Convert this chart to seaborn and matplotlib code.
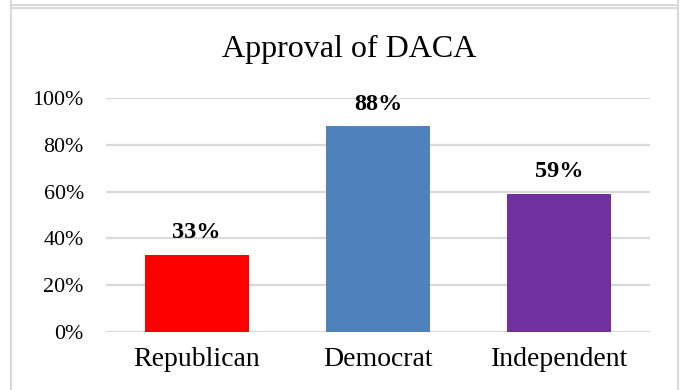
import matplotlib
matplotlib.use("Agg")
import matplotlib.pyplot as plt
from matplotlib.lines import Line2D
from matplotlib.ticker import PercentFormatter
import seaborn as sns
import pandas as pd

# Share of each party that approves of DACA
parties = ["Republican", "Democrat", "Independent"]
approval = [0.33, 0.88, 0.59]
bar_colors = ["#FF0000", "#4F81BD", "#7030A0"]
y_ticks = [0.0, 0.2, 0.4, 0.6, 0.8, 1.0]
title = "Approval of DACA"

df = pd.DataFrame({"party": parties, "approval": approval})

sns.set_theme(style="white")
plt.rcParams["font.family"] = ["Liberation Serif", "DejaVu Serif"]

fig = plt.figure(figsize=(6.85, 3.9), dpi=100)
ax = fig.add_axes([106 / 685, 58.3 / 390, 544 / 685, 233.4 / 390])

sns.barplot(data=df, x="party", y="approval", hue="party",
            palette=bar_colors, width=0.574, legend=False,
            saturation=1, linewidth=0, ax=ax, zorder=3)

ax.set_ylim(0, 1)
ax.set_yticks(y_ticks)
ax.yaxis.set_major_formatter(PercentFormatter(1.0, decimals=0))
ax.grid(axis="y", color="#D9D9D9", linewidth=1.6, zorder=0)
ax.set_axisbelow(True)
for side in ["top", "right", "left", "bottom"]:
    ax.spines[side].set_visible(False)
ax.tick_params(axis="y", length=0, pad=16, labelsize=15.8, labelcolor="#000000")
ax.tick_params(axis="x", length=0, pad=11, labelsize=20, labelcolor="#000000")
ax.set_xlabel("")
ax.set_ylabel("")

# value labels above each bar
for i, v in enumerate(approval):
    ax.annotate(f"{v:.0%}", xy=(i, v), xytext=(0, 12), textcoords="offset points",
                ha="center", va="baseline", fontsize=17.5, fontweight="bold",
                color="#000000")

fig.text(349 / 685, 1 - 57.3 / 390, title, ha="center", va="baseline",
         fontsize=23, color="#000000")

# light grey frame lines around the chart area
frame_kw = dict(color="#D9D9D9", linewidth=1.5, transform=None)
H = 390
fig.add_artist(Line2D([11, 11], [0, H], **frame_kw))
fig.add_artist(Line2D([678, 678], [0, H], **frame_kw))
fig.add_artist(Line2D([11, 678], [H - 4.5, H - 4.5], **frame_kw))
fig.add_artist(Line2D([11, 678], [H - 7.5, H - 7.5], **frame_kw))

fig.savefig("out.png", dpi=100)
